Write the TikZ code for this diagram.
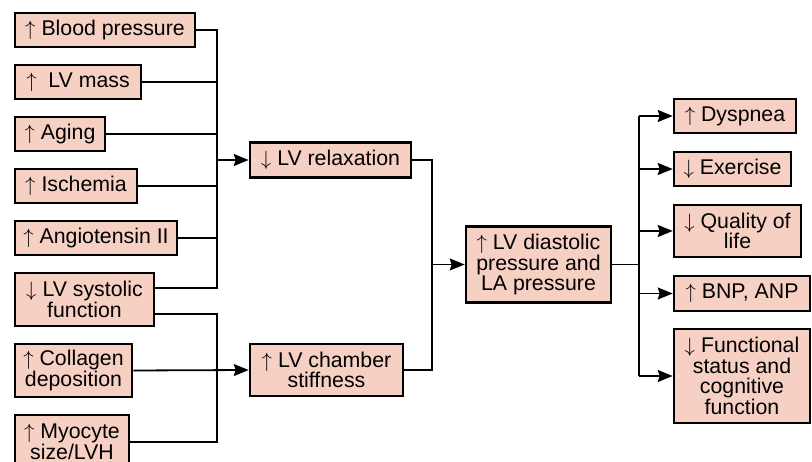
\documentclass[tikz,border=0pt]{standalone}
\usepackage{fontspec}
\setmainfont{Liberation Sans}
\usetikzlibrary{arrows.meta}
\definecolor{boxfill}{RGB}{247,208,196}
\begin{document}
\begin{tikzpicture}[x=1pt,y=-1pt,
  bx/.style={draw=black,fill=boxfill,line width=2.6pt,inner sep=0pt,align=center,
    font=\fontsize{21.3}{20.6}\selectfont},
  ln/.style={line width=1.8pt},
  ar/.style={line width=1.8pt,-{Stealth[length=15pt,width=12pt,inset=2pt]}}]
\useasboundingbox (0,0) rectangle (812,462);
\clip (0,0) rectangle (812,462);
% left column
\node[bx,minimum width=180pt,minimum height=34pt] (bp) at (105,30) {$\uparrow$ Blood pressure};
\node[bx,minimum width=126pt,minimum height=34pt] (mass) at (78,82) {$\uparrow$\ \ LV mass};
\node[bx,minimum width=90pt,minimum height=34pt] (aging) at (60,134) {$\uparrow$ Aging};
\node[bx,minimum width=122pt,minimum height=34pt] (isch) at (76,186) {$\uparrow$ Ischemia};
\node[bx,minimum width=162pt,minimum height=34pt] (ang) at (96,238) {$\uparrow$ Angiotensin II};
\node[bx,minimum width=139pt,minimum height=53pt] (sys) at (84.5,299.5) {$\downarrow$ LV systolic\\function};
\node[bx,minimum width=117pt,minimum height=53pt] (coll) at (73.5,370.5) {$\uparrow$ Collagen\\deposition};
\node[bx,minimum width=114pt,minimum height=53pt] (myo) at (72,441.5) {$\uparrow$ Myocyte\\size/LVH};
% middle
\node[bx,minimum width=161pt,minimum height=35pt] (relax) at (330.5,160) {$\downarrow$ LV relaxation};
\node[bx,minimum width=153pt,minimum height=52pt] (stiff) at (326.5,370) {$\uparrow$ LV chamber\\stiffness};
\node[bx,minimum width=145pt,minimum height=76pt] (diast) at (538.5,264.5) {$\uparrow$ LV diastolic\\pressure and\\LA pressure};
% right column
\node[bx,minimum width=122pt,minimum height=34pt] (dysp) at (735,116) {$\uparrow$ Dyspnea};
\node[bx,minimum width=117pt,minimum height=34pt] (exer) at (732.5,169) {$\downarrow$ Exercise};
\node[bx,minimum width=127pt,minimum height=52pt] (qual) at (737.5,231) {$\downarrow$ Quality of\\life};
\node[bx,minimum width=136pt,minimum height=35pt] (bnp) at (742,293.5) {$\uparrow$ BNP, ANP};
\node[bx,minimum width=136pt,minimum height=94pt] (func) at (742,376) {$\downarrow$ Functional\\status and\\cognitive\\function};
% upper bus
\coordinate (ubT) at (217,30);
\coordinate (ubB) at (217,288);
\draw[ln] (bp.east) -- (ubT) -- (ubB) -- (sys.east |- ubB);
\foreach \n in {mass,aging,isch,ang} \draw[ln] (\n.east) -- (\n.east -| ubT);
\draw[ar] (ubT |- relax.west) -- (relax.west);
% lower bus
\coordinate (lbT) at (217,314);
\coordinate (lbB) at (217,442);
\draw[ln] (sys.east |- lbT) -- (lbT) -- (lbB) -- (myo.east |- lbB);
\draw[ar] (coll.east) -- (stiff.west);
% middle bus
\coordinate (mb) at (432,0);
\draw[ln] (relax.east) -| (mb |- stiff.east) -- (stiff.east);
\draw[ar] (mb |- diast.west) -- (diast.west);
% right bus
\coordinate (rb) at (639,0);
\draw[ln] (diast.east) -- (rb |- diast.east);
\draw[ln] (rb |- dysp.west) -- (rb |- func.west);
\foreach \n in {dysp,exer,qual,bnp,func} \draw[ar] (rb |- \n.west) -- (\n.west);
\end{tikzpicture}
\end{document}
